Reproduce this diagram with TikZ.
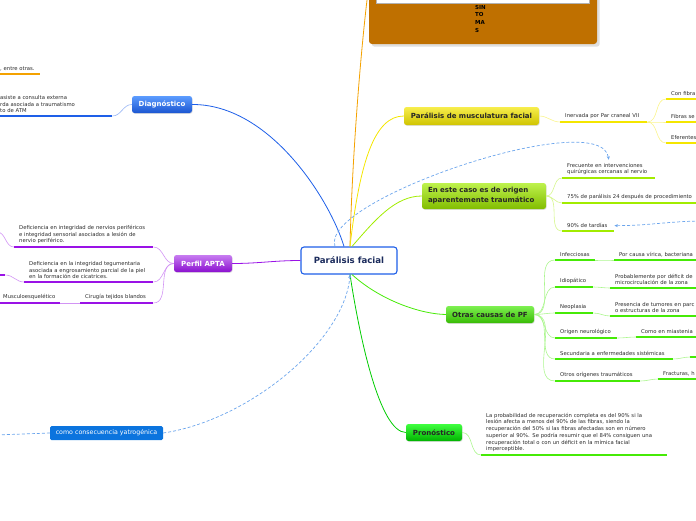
\documentclass[tikz,border=0pt]{standalone}
\usepackage{fontspec}
\setmainfont{DejaVu Sans}
\usetikzlibrary{shadows,arrows.meta}
\definecolor{mmblue}{HTML}{1E5FE8}
\definecolor{mmbluetop}{HTML}{5C9CFF}
\definecolor{mmpurple}{HTML}{9A12E6}
\definecolor{mmyellow}{HTML}{F4E600}
\definecolor{mmlime}{HTML}{A2EC00}
\definecolor{mmgreen}{HTML}{46EA06}
\definecolor{mmorange}{HTML}{F4A200}
\definecolor{mmbrown}{HTML}{BF7000}
\definecolor{mmdash}{HTML}{6AA4EC}
\definecolor{mmyatro}{HTML}{0B74DE}
\definecolor{mmnavy}{HTML}{1B2B5C}
\definecolor{mmtext}{HTML}{2A2A2A}

\begin{document}
\begin{tikzpicture}[x=1pt,y=-1pt]
\tikzset{
  root/.style={draw=mmblue, line width=1.1pt, fill=white, rounded corners=3pt,
    minimum width=96pt, minimum height=27pt, text=mmnavy,
    font=\fontsize{8.6}{10}\selectfont\bfseries},
  topic/.style={rounded corners=2.5pt, minimum height=17pt, inner xsep=4pt,
    font=\fontsize{7}{10}\selectfont\bfseries, text=black!85,
    drop shadow={opacity=0.25, shadow xshift=0.6pt, shadow yshift=-0.8pt}},
  leaf/.style={anchor=south west, inner xsep=5pt, inner ysep=3pt, align=left,
    font=\fontsize{5.3}{6.7}\selectfont, text=mmtext,
    execute at begin node={\hyphenpenalty=10000\exhyphenpenalty=10000},
    append after command={(\tikzlastnode.south west) edge[line width=2.2pt, draw=#1] (\tikzlastnode.south east)}},
  link/.style={draw=#1, line width=0.8pt},
  twig/.style={draw=#1!45!white, line width=0.6pt},
  dashlink/.style={draw=mmdash, line width=0.7pt, dash pattern=on 3pt off 2pt,
    -{Stealth[length=3.5pt,width=3pt]}},
}
\useasboundingbox (0,0) rectangle (696,520);
\clip (0,0) rectangle (696,520);

% orange box at the top
\fill[mmbrown, rounded corners=3pt, drop shadow={opacity=0.25}] (369,-10) rectangle (597,44);
\filldraw[fill=white, draw=black!30, line width=0.3pt] (376,-6) rectangle (589,3);
\node[anchor=north west, inner sep=0pt, align=left, font=\fontsize{5.5}{7.6}\selectfont\bfseries] (sint) at (475,5) {SIN\\TO\\MA\\S};
\coordinate (sin) at (367,0);

% centre
\node[root] (pf) at (349,260.5) {Parálisis facial};

% topics
\node[topic, top color=mmbluetop, bottom color=mmblue!90!black, text=white, minimum width=60pt] (diag) at (162,104.5) {Diagnóstico};
\node[topic, top color=mmpurple!55!white, bottom color=mmpurple!90!black, text=white, minimum width=58pt] (apta) at (203,263.5) {Perfil APTA};
\node[topic, top color=mmyellow!70!white, bottom color=mmyellow!85!black, minimum width=135pt, minimum height=18pt] (musc) at (471.5,116) {Parálisis de musculatura facial};
\node[topic, top color=mmlime!70!white, bottom color=mmlime!80!black, minimum width=120pt, minimum height=26pt, inner xsep=6pt, text width=112pt, align=left] (orig) at (484,196) {En este caso es de origen\\aparentemente traumático};
\node[topic, top color=mmgreen!70!white, bottom color=mmgreen!80!black, minimum width=88pt] (otras) at (490,314.5) {Otras causas de PF};
\node[topic, top color=green!75!white, bottom color=green!70!black, minimum width=56pt] (pron) at (434,432.5) {Pronóstico};
\node[fill=mmyatro, rounded corners=1.5pt, minimum width=113pt, minimum height=14pt, inner sep=1pt, text=white, font=\fontsize{6.3}{7}\selectfont] (yatro) at (106.5,433) {como consecuencia yatrogénica};

% links from the centre
\draw[link=mmorange] ([xshift=1pt]pf.north) .. controls (352,160) and (360,60) .. (sin);
\draw[link=mmblue] (diag.east) .. controls (270,104) and (330,200) .. ([xshift=-5pt]pf.north);
\draw[link=mmpurple] (apta.east) to[out=0,in=180] (pf.west);
\draw[link=mmyellow] ([xshift=1pt]pf.north) .. controls (360,160) and (375,116) .. (musc.west);
\draw[link=mmlime] ([xshift=3pt]pf.north) .. controls (375,220) and (395,196) .. (orig.west);
\draw[link=mmgreen] ([xshift=3pt]pf.south) .. controls (380,300) and (420,314) .. (otras.west);
\draw[link=green!80!black] ([xshift=1pt]pf.south) .. controls (360,340) and (380,432) .. (pron.west);

% left side
\node[leaf=mmorange, text width=35pt] (entre) at (-5,74) {, entre otras.};
\node[leaf=mmblue, text width=107pt] (dl) at (-5,116) {asiste a consulta externa\\rda asociada a traumatismo\\to de ATM};
\draw[twig=mmblue] (diag.west) to[out=180,in=0] (dl.south east);

\node[leaf=mmpurple, text width=129pt] (a1) at (14,247) {Deficiencia en integridad de nervios periféricos\\e integridad sensorial asociados a lesión de\\nervio periférico.};
\node[leaf=mmpurple, text width=119pt] (a2) at (24,282) {Deficiencia en la integridad tegumentaria\\asociada a engrosamiento parcial de la piel\\en la formación de cicatrices.};
\node[leaf=mmpurple, text width=63pt] (a3) at (80,303) {Cirugía tejidos blandos};
\node[leaf=mmpurple, text width=52pt] (a4) at (-2,303) {Musculoesquelético};
\node[leaf=mmpurple, text width=0pt] (a5) at (-5,275) {};
\coordinate (aoff) at (-3,232);
\foreach \n in {a1,a2,a3}
  \draw[twig=mmpurple] (apta.west) to[out=180,in=0] (\n.south east);
\draw[twig=mmpurple] (a1.south west) to[out=180,in=0] (aoff);
\draw[twig=mmpurple] (a2.south west) to[out=180,in=0] (a5.south east);
\draw[twig=mmpurple] (a3.south west) -- (a4.south east);

\coordinate (yoff) at (-5,435);
\draw[dashlink, -] (yatro.west) -- (yoff);
\draw[dashlink] (yatro.east) .. controls (250,420) and (345,340) .. ([xshift=1pt]pf.south);

% musculatura
\node[leaf=mmyellow, text width=77pt] (inv) at (560,122) {Inervada por Par craneal VII};
\node[leaf=mmyellow, text width=30pt] (con) at (666,99) {Con fibra};
\node[leaf=mmyellow, text width=30pt] (fib) at (666,122) {Fibras se};
\node[leaf=mmyellow, text width=30pt] (efe) at (666,143) {Eferentes};
\draw[twig=mmyellow] (musc.east) to[out=0,in=180] (inv.south west);
\foreach \n in {con,fib,efe}
  \draw[twig=mmyellow] (inv.south east) to[out=0,in=180] (\n.south west);

% origen
\node[leaf=mmlime, text width=83pt] (fre) at (562,178) {Frecuente en intervenciones\\quirúrgicas cercanas al nervio};
\node[leaf=mmlime, text width=134pt] (p75) at (562,203) {75\% de parálisis 24 después de procedimiento};
\node[leaf=mmlime, text width=42pt] (tar) at (562,231) {90\% de tardías};
\foreach \n in {fre,p75,tar}
  \draw[twig=mmlime] (orig.east) to[out=0,in=180] (\n.south west);
\draw[dashlink] ([xshift=-14pt]pf.north) .. controls (318,200) and (602,105) .. (fre.north);
\coordinate (doff) at (705,221);
\draw[dashlink] (doff) to[out=180,in=0] (tar.east);

% otras causas
\node[leaf=mmgreen, text width=30pt] (inf) at (555,260) {Infecciosas};
\node[leaf=mmgreen, text width=82pt] (inf2) at (614,260) {Por causa vírica, bacteriana};
\node[leaf=mmgreen, text width=28pt] (idi) at (555,287) {Idiopático};
\node[leaf=mmgreen, text width=86pt] (idi2) at (610,288) {Probablemente por déficit de\\microcirculación de la zona};
\node[leaf=mmgreen, text width=28pt] (neo) at (555,313) {Neoplasia};
\node[leaf=mmgreen, text width=86pt] (neo2) at (610,316) {Presencia de tumores en parc\\o estructuras de la zona};
\node[leaf=mmgreen, text width=52pt] (neu) at (555,338) {Origen neurológico};
\node[leaf=mmgreen, text width=60pt] (neu2) at (636,337) {Como en miastenia};
\node[leaf=mmgreen, text width=108pt] (sec) at (555,359) {Secundaria a enfermedades sistémicas};
\node[leaf=mmgreen, text width=6pt] (sec2) at (690,357) {};
\node[leaf=mmgreen, text width=75pt] (otr) at (555,381) {Otros orígenes traumáticos};
\node[leaf=mmgreen, text width=38pt] (otr2) at (658,379) {Fracturas, h};
\foreach \n in {inf,idi,neo,neu,sec,otr}
  \draw[twig=mmgreen] (otras.east) to[out=0,in=180] (\n.south west);
\foreach \a/\b in {inf/inf2,idi/idi2,neo/neo2,neu/neu2,sec/sec2,otr/otr2}
  \draw[twig=mmgreen] (\a.south east) to[out=0,in=180] (\b.south west);

% pronostico
\node[leaf=mmgreen, text width=176pt] (prl) at (481,455) {La probabilidad de recuperación completa es del 90\% si la\\lesión afecta a menos del 90\% de las fibras, siendo la\\recuperación del 50\% si las fibras afectadas son en número\\superior al 90\%. Se podría resumir que el 84\% consiguen una\\recuperación total o con un déficit en la mímica facial\\imperceptible.};
\draw[twig=mmgreen] (pron.east) to[out=0,in=180] (prl.south west);
\end{tikzpicture}
\end{document}
